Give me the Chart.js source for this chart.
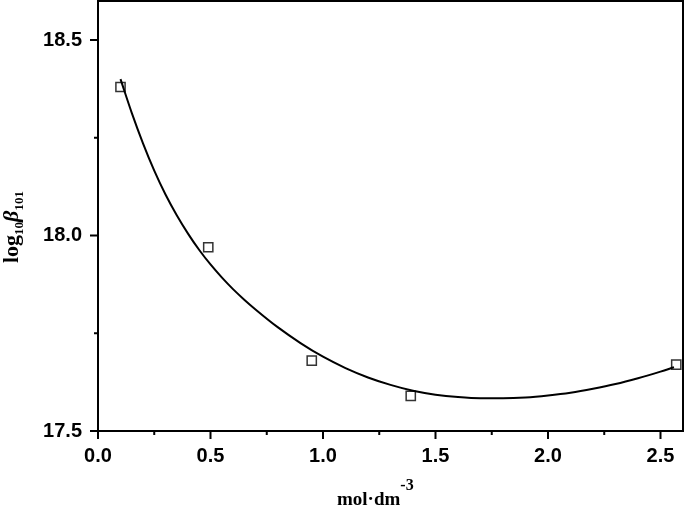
<!DOCTYPE html>
<html>
<head>
<meta charset="utf-8">
<script src="https://cdn.jsdelivr.net/npm/chart.js@4"></script>
<style>
  html, body { margin: 0; padding: 0; background: #fff; }
  #wrap { width: 685px; height: 508px; position: relative; }
</style>
</head>
<body>
<div id="wrap"><canvas id="stabilityChart"></canvas></div>
<script>
// measured points
const concentration = [0.10, 0.49, 0.95, 1.39, 2.57];
const logBeta = [18.38, 17.97, 17.68, 17.59, 17.67];

// fitted curve
const fitX = [0.10, 0.15, 0.20, 0.25, 0.30, 0.35, 0.40, 0.45, 0.50, 0.55, 0.60, 0.65, 0.70, 0.80, 0.90, 1.00, 1.10, 1.20, 1.30, 1.40, 1.50, 1.60, 1.70, 1.80, 1.90, 2.00, 2.10, 2.20, 2.30, 2.40, 2.50, 2.56];
const fitY = [18.400, 18.314, 18.236, 18.166, 18.105, 18.052, 18.005, 17.963, 17.926, 17.893, 17.863, 17.836, 17.811, 17.765, 17.725, 17.690, 17.661, 17.637, 17.618, 17.603, 17.593, 17.587, 17.584, 17.584, 17.586, 17.591, 17.598, 17.608, 17.620, 17.635, 17.652, 17.663];

const xTickLabels = ['0.0', '0.5', '1.0', '1.5', '2.0', '2.5'];
const yTickLabels = ['17.5', '18.0', '18.5'];

const tickFont = { family: '"Liberation Sans", Arial, sans-serif', size: 20, weight: 'bold' };

function majorLabel(list) {
    return function(value) {
        const s = value.toFixed(1);
        if (list.includes(s) && Math.abs(value - parseFloat(s)) < 1e-6) return s;
        return '';
    };
}

// frame, tick marks (major/minor) and the two axis titles
const axesBox = {
    id: 'axesBox',
    afterDraw(chart) {
        const { ctx, chartArea: a, scales: { x, y } } = chart;
        ctx.save();
        ctx.strokeStyle = '#000';
        ctx.lineWidth = 2;
        ctx.strokeRect(a.left, a.top, a.right - a.left, a.bottom - a.top);
        ctx.beginPath();
        x.ticks.forEach(t => {
            const px = x.getPixelForValue(t.value);
            const len = t.label ? 8 : 4;
            ctx.moveTo(px, a.bottom);
            ctx.lineTo(px, a.bottom + len);
        });
        y.ticks.forEach(t => {
            const py = y.getPixelForValue(t.value);
            const len = t.label ? 8 : 4;
            ctx.moveTo(a.left, py);
            ctx.lineTo(a.left - len, py);
        });
        ctx.stroke();

        ctx.fillStyle = '#000';
        ctx.textBaseline = 'alphabetic';
        ctx.textAlign = 'left';

        // x title: mol·dm^-3
        let tx = a.left + 239;
        ctx.font = 'bold 19px "Liberation Serif", "Times New Roman", serif';
        ctx.fillText('mol·dm', tx, 505);
        tx += ctx.measureText('mol·dm').width;
        ctx.font = 'bold 16px "Liberation Serif", "Times New Roman", serif';
        ctx.fillText('-3', tx, 490);

        // y title: log10 β101
        ctx.translate(18, 263);
        ctx.rotate(-Math.PI / 2);
        let p = 0;
        ctx.font = 'bold 22px "Liberation Serif", "Times New Roman", serif';
        ctx.fillText('log', p, 0);
        p += ctx.measureText('log').width;
        ctx.font = 'bold 13px "Liberation Serif", "Times New Roman", serif';
        ctx.fillText('10', p, 5);
        p += ctx.measureText('10').width;
        ctx.font = 'italic bold 22px "Liberation Serif", "Times New Roman", serif';
        ctx.fillText('β', p, 0);
        p += ctx.measureText('β').width;
        ctx.font = 'bold 13px "Liberation Serif", "Times New Roman", serif';
        ctx.fillText('101', p, 5);
        ctx.restore();
    }
};

new Chart(document.getElementById('stabilityChart'), {
    type: 'scatter',
    data: {
        datasets: [
            {
                type: 'line',
                label: 'fit',
                data: fitX.map((v, i) => ({ x: v, y: fitY[i] })),
                borderColor: '#000',
                borderWidth: 2,
                pointRadius: 0,
                fill: false,
                cubicInterpolationMode: 'monotone'
            },
            {
                label: 'log10 beta101',
                data: concentration.map((v, i) => ({ x: v, y: logBeta[i] })),
                pointStyle: 'rect',
                pointRadius: 6.5,
                borderColor: '#333',
                borderWidth: 1.5,
                backgroundColor: 'rgba(0,0,0,0)'
            }
        ]
    },
    options: {
        responsive: true,
        maintainAspectRatio: false,
        animation: false,
        layout: { autoPadding: false, padding: { top: 1, right: 2, left: 0, bottom: 0 } },
        plugins: {
            legend: { display: false },
            tooltip: { enabled: false }
        },
        scales: {
            x: {
                type: 'linear',
                min: 0,
                max: 2.6,
                afterFit: s => {
                    s.height = 77;
                    s.paddingLeft = 0;
                    s.paddingRight = 0;
                },
                grid: { display: true, drawOnChartArea: false, color: 'rgba(0,0,0,0)', tickLength: 8 },
                border: { display: false },
                ticks: {
                    stepSize: 0.25,
                    includeBounds: false,
                    autoSkip: false,
                    maxRotation: 0,
                    padding: 5,
                    color: '#000',
                    font: tickFont,
                    callback: majorLabel(xTickLabels)
                }
            },
            y: {
                type: 'linear',
                min: 17.5,
                max: 18.6,
                afterFit: s => {
                    s.width = 98;
                    s.paddingTop = 0;
                    s.paddingBottom = 0;
                },
                grid: { display: true, drawOnChartArea: false, color: 'rgba(0,0,0,0)', tickLength: 8 },
                border: { display: false },
                ticks: {
                    stepSize: 0.25,
                    includeBounds: false,
                    autoSkip: false,
                    padding: 8,
                    color: '#000',
                    font: tickFont,
                    callback: majorLabel(yTickLabels)
                }
            }
        }
    },
    plugins: [axesBox]
});
</script>
</body>
</html>
